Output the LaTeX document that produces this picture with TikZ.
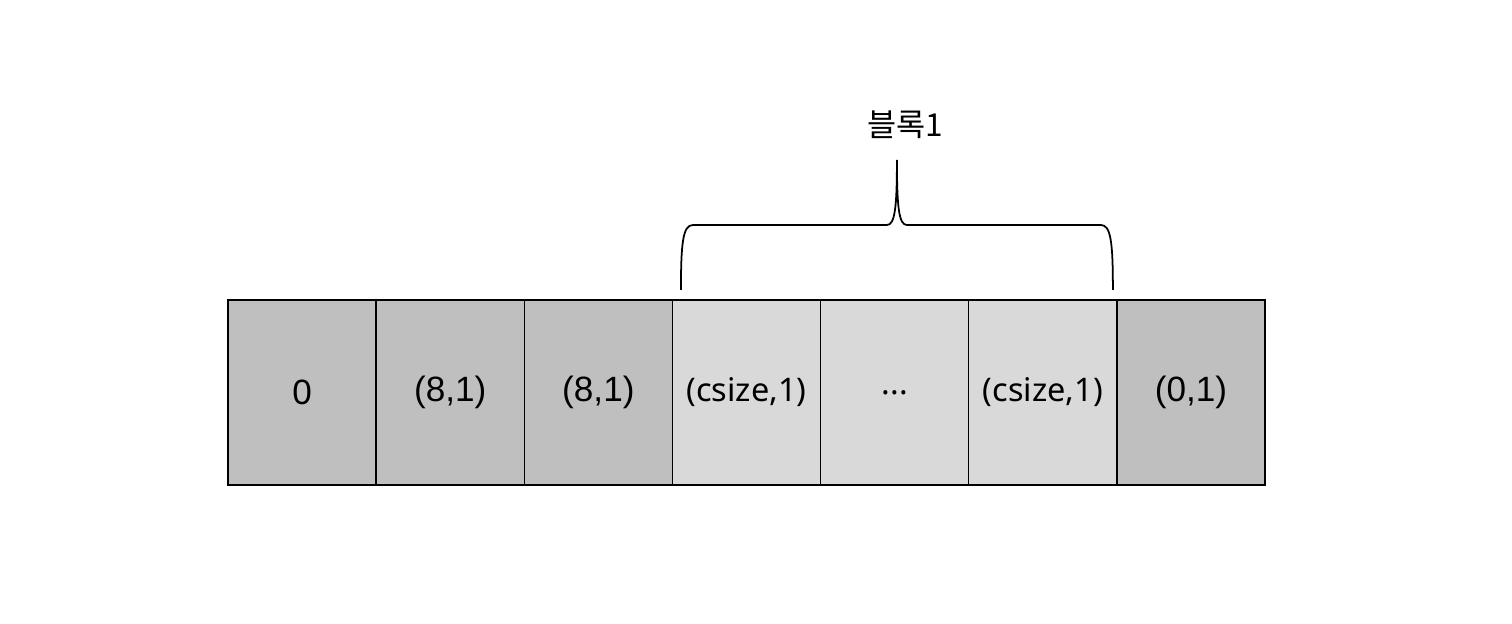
\documentclass[tikz,border=0pt]{standalone}
\usepackage{fontspec}
\setmainfont{Liberation Sans}
\newfontfamily\krfont{Noto Sans CJK KR}
\newfontfamily\notofont{Noto Sans}
\usetikzlibrary{positioning, calc}
\definecolor{celldark}{RGB}{191,191,191}
\definecolor{celllight}{RGB}{217,217,217}

\begin{document}
\begin{tikzpicture}[
  cell/.style={draw=black, line width=0.8pt, minimum width=2.963cm,
               minimum height=3.7cm, outer sep=0pt, inner sep=0pt},
  darkcell/.style={cell, fill=celldark, font=\fontsize{20}{24}\selectfont},
  lightcell/.style={cell, fill=celllight, font=\notofont\fontsize{18.5}{22}\selectfont},
  brace/.style={line width=1pt, black},
  lbl/.style={font=\krfont\fontsize{18}{22}\selectfont},
  node distance=0pt
]
  \useasboundingbox (0,0) rectangle (30.24,12.48);

  % row of cells
  \node[darkcell, anchor=south west] (c0) at (4.56,2.78) {0};
  \node[darkcell, right=of c0] (c1) {(8,1)};
  \node[darkcell, right=of c1] (c2) {(8,1)};
  \node[lightcell, right=of c2] (c3) {(csize,1)};
  \node[lightcell, right=of c3] (c4) {...};
  \node[lightcell, right=of c4] (c5) {(csize,1)};
  \node[darkcell, right=of c5] (c6) {(0,1)};

  % brace over block 1
  \coordinate (bl) at ($(c3.north west)+(0.17,0.2)$);
  \coordinate (br) at ($(c5.north east)+(-0.08,0.2)$);
  \coordinate (tip) at ($(bl)!0.5!(br)+(0,2.6)$);
  \draw[brace] (bl) .. controls +(0,0.95) and +(-0.2,0) .. ($(bl)+(0.24,1.3)$)
    -- ($(tip)+(-0.2,-1.3)$) .. controls +(0.16,0) and +(0,-0.95) .. (tip)
    .. controls +(0,-0.95) and +(-0.16,0) .. ($(tip)+(0.2,-1.3)$)
    -- ($(br)+(-0.24,1.3)$) .. controls +(0.2,0) and +(0,0.95) .. (br);

  \node[lbl] (blk) at ($(tip)+(0.16,0.7)$) {블록1};

\end{tikzpicture}
\end{document}
